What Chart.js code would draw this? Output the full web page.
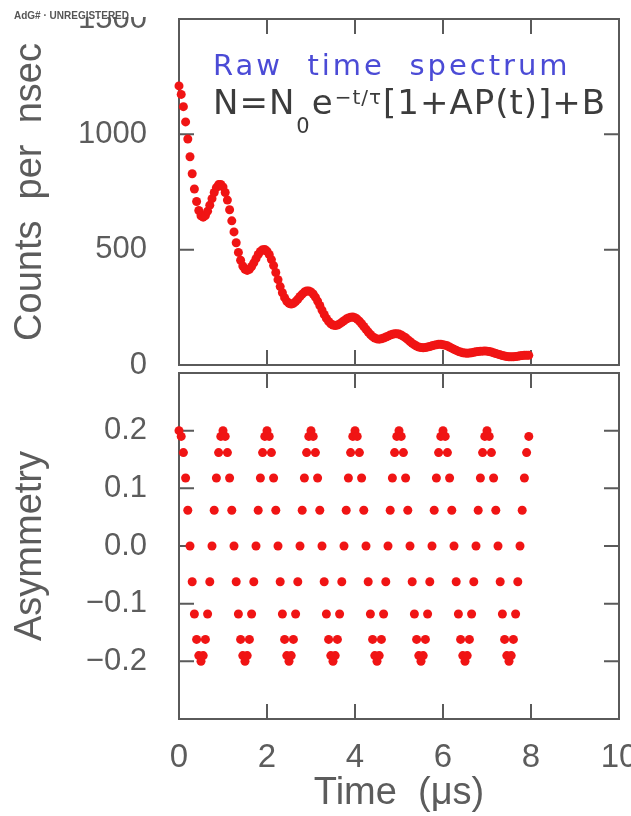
<!DOCTYPE html>
<html>
<head>
<meta charset="utf-8">
<script src="https://cdn.jsdelivr.net/npm/chart.js@4.4.0/dist/chart.umd.min.js"></script>
<style>
  html, body { margin: 0; padding: 0; background: #fff; }
  #wrap { position: relative; width: 631px; height: 816px; overflow: hidden; }
  canvas { position: absolute; left: 0; top: 0; }
</style>
</head>
<body>
<div id="wrap">
  <canvas id="countsChart" width="631" height="816"></canvas>
  <canvas id="asymChart" width="631" height="816"></canvas>
</div>
<script>
// ------------------------------------------------------------
//  DATA (one point every 0.05 us)
// ------------------------------------------------------------
const timeUs = [
  0, 0.05, 0.1, 0.15, 0.2, 0.25, 0.3, 0.35, 0.4, 0.45, 0.5, 0.55, 0.6, 0.65, 0.7, 0.75, 0.8, 0.85, 0.9, 0.95,
  1, 1.05, 1.1, 1.15, 1.2, 1.25, 1.3, 1.35, 1.4, 1.45, 1.5, 1.55, 1.6, 1.65, 1.7, 1.75, 1.8, 1.85, 1.9, 1.95,
  2, 2.05, 2.1, 2.15, 2.2, 2.25, 2.3, 2.35, 2.4, 2.45, 2.5, 2.55, 2.6, 2.65, 2.7, 2.75, 2.8, 2.85, 2.9, 2.95,
  3, 3.05, 3.1, 3.15, 3.2, 3.25, 3.3, 3.35, 3.4, 3.45, 3.5, 3.55, 3.6, 3.65, 3.7, 3.75, 3.8, 3.85, 3.9, 3.95,
  4, 4.05, 4.1, 4.15, 4.2, 4.25, 4.3, 4.35, 4.4, 4.45, 4.5, 4.55, 4.6, 4.65, 4.7, 4.75, 4.8, 4.85, 4.9, 4.95,
  5, 5.05, 5.1, 5.15, 5.2, 5.25, 5.3, 5.35, 5.4, 5.45, 5.5, 5.55, 5.6, 5.65, 5.7, 5.75, 5.8, 5.85, 5.9, 5.95,
  6, 6.05, 6.1, 6.15, 6.2, 6.25, 6.3, 6.35, 6.4, 6.45, 6.5, 6.55, 6.6, 6.65, 6.7, 6.75, 6.8, 6.85, 6.9, 6.95,
  7, 7.05, 7.1, 7.15, 7.2, 7.25, 7.3, 7.35, 7.4, 7.45, 7.5, 7.55, 7.6, 7.65, 7.7, 7.75, 7.8, 7.85, 7.9, 7.95
];

// top panel: counts per nsec
const countsPerNs = [
  1210, 1173, 1120, 1054, 980, 903, 829, 763, 709, 670, 647, 641, 648, 667, 693, 721, 748, 769, 782, 783,
  772, 748, 715, 673, 625, 577, 530, 488, 454, 429, 415, 410, 415, 427, 443, 461, 479, 492, 500, 501,
  493, 479, 457, 431, 401, 370, 340, 313, 292, 276, 267, 264, 267, 275, 285, 297, 307, 316, 321, 321,
  317, 308, 294, 277, 258, 238, 219, 202, 189, 179, 173, 171, 173, 178, 185, 192, 199, 204, 207, 208,
  205, 199, 190, 179, 167, 155, 143, 132, 123, 117, 113, 112, 114, 117, 121, 125, 130, 133, 135, 135,
  134, 130, 124, 118, 110, 102, 94, 88, 82, 78, 76, 75, 76, 78, 80, 83, 86, 88, 90, 90,
  88, 86, 83, 78, 73, 68, 64, 59, 56, 53, 52, 51, 52, 53, 55, 57, 58, 60, 60, 61,
  60, 58, 56, 53, 50, 47, 44, 41, 39, 37, 36, 36, 36, 37, 38, 40, 41, 42, 42, 42
];

// bottom panel: asymmetry
const asymmetry = [
  0.2, 0.19, 0.162, 0.118, 0.062, 0, -0.062, -0.118, -0.162, -0.19, -0.2, -0.19, -0.162, -0.118, -0.062, 0, 0.062, 0.118, 0.162, 0.19,
  0.2, 0.19, 0.162, 0.118, 0.062, 0, -0.062, -0.118, -0.162, -0.19, -0.2, -0.19, -0.162, -0.118, -0.062, 0, 0.062, 0.118, 0.162, 0.19,
  0.2, 0.19, 0.162, 0.118, 0.062, 0, -0.062, -0.118, -0.162, -0.19, -0.2, -0.19, -0.162, -0.118, -0.062, 0, 0.062, 0.118, 0.162, 0.19,
  0.2, 0.19, 0.162, 0.118, 0.062, 0, -0.062, -0.118, -0.162, -0.19, -0.2, -0.19, -0.162, -0.118, -0.062, 0, 0.062, 0.118, 0.162, 0.19,
  0.2, 0.19, 0.162, 0.118, 0.062, 0, -0.062, -0.118, -0.162, -0.19, -0.2, -0.19, -0.162, -0.118, -0.062, 0, 0.062, 0.118, 0.162, 0.19,
  0.2, 0.19, 0.162, 0.118, 0.062, 0, -0.062, -0.118, -0.162, -0.19, -0.2, -0.19, -0.162, -0.118, -0.062, 0, 0.062, 0.118, 0.162, 0.19,
  0.2, 0.19, 0.162, 0.118, 0.062, 0, -0.062, -0.118, -0.162, -0.19, -0.2, -0.19, -0.162, -0.118, -0.062, 0, 0.062, 0.118, 0.162, 0.19,
  0.2, 0.19, 0.162, 0.118, 0.062, 0, -0.062, -0.118, -0.162, -0.19, -0.2, -0.19, -0.162, -0.118, -0.062, 0, 0.062, 0.118, 0.162, 0.19
];

// axes / labels
const timeRange = [0, 10];
const timeStep = 2;
const countsRange = [0, 1500];
const countsStep = 500;
const asymRange = [-0.3, 0.3];
const asymStep = 0.1;

const SPECTRUM_LABEL = 'Raw  time  spectrum';
const WATERMARK = 'AdG# \u00b7 UNREGISTERED';

// ------------------------------------------------------------
//  STYLE
// ------------------------------------------------------------
const INK = '#5c5c5c';
const FRAME = '#5a5a5a';
const DOT = '#f01414';
const FONT = '"Liberation Sans", Arial, sans-serif';

Chart.defaults.font.family = FONT;
Chart.defaults.color = INK;

// frame + inward ticks on all four sides
const framePlugin = {
  id: 'frame',
  beforeDatasetsDraw(chart) {
    const { ctx, chartArea: a, scales } = chart;
    const len = 15;
    ctx.save();
    ctx.strokeStyle = FRAME;
    ctx.lineWidth = 2;
    ctx.strokeRect(a.left, a.top, a.right - a.left, a.bottom - a.top);
    ctx.beginPath();
    scales.x.ticks.forEach(t => {
      if (t.value <= scales.x.min + 1e-9 || t.value >= scales.x.max - 1e-9) return;
      const px = scales.x.getPixelForValue(t.value);
      ctx.moveTo(px, a.bottom); ctx.lineTo(px, a.bottom - len);
      ctx.moveTo(px, a.top); ctx.lineTo(px, a.top + len);
    });
    scales.y.ticks.forEach(t => {
      if (t.value <= scales.y.min + 1e-9 || t.value >= scales.y.max - 1e-9) return;
      const py = scales.y.getPixelForValue(t.value);
      ctx.moveTo(a.left, py); ctx.lineTo(a.left + len, py);
      ctx.moveTo(a.right, py); ctx.lineTo(a.right - len, py);
    });
    ctx.stroke();
    ctx.restore();
  }
};

// text inside the top panel + watermark
const annotationPlugin = {
  id: 'annotation',
  afterDraw(chart) {
    const { ctx, chartArea: a } = chart;
    ctx.save();
    ctx.textAlign = 'left';
    ctx.textBaseline = 'alphabetic';

    ctx.fillStyle = '#4b4bd6';
    ctx.font = '29px "DejaVu Sans"';
    ctx.letterSpacing = '3px';
    ctx.fillText(SPECTRUM_LABEL, a.left + 34, 75);

    // N=N0 e^{-t/tau}[1+AP(t)]+B
    const parts = [
      { text: 'N=N', size: 34, dy: 0 },
      { text: '0', size: 21, dy: 19 },
      { text: 'e', size: 34, dy: 0 },
      { text: '\u2212t/\u03c4', size: 20, dy: -10 },
      { text: '[1+AP(t)]+B', size: 34, dy: 0 }
    ];
    ctx.fillStyle = '#3c3c3c';
    ctx.letterSpacing = '1px';
    let x = a.left + 34;
    parts.forEach(p => {
      ctx.font = p.size + 'px "DejaVu Sans"';
      ctx.fillText(p.text, x, 114 + p.dy);
      x += ctx.measureText(p.text).width + 1;
    });

    // watermark
    ctx.letterSpacing = '0px';
    ctx.fillStyle = '#ffffff';
    ctx.fillRect(0, 0, 170, 17);
    ctx.fillStyle = '#555';
    ctx.font = 'bold 10px ' + FONT;
    ctx.fillText(WATERMARK, 14, 19);
    ctx.restore();
  }
};

function noPad(s) {
  s.paddingLeft = 0; s.paddingRight = 0; s.paddingTop = 0; s.paddingBottom = 0;
}

// ------------------------------------------------------------
//  TOP PANEL
// ------------------------------------------------------------
new Chart(document.getElementById('countsChart'), {
  type: 'scatter',
  data: {
    datasets: [{
      data: timeUs.map((t, i) => ({ x: t, y: countsPerNs[i] })),
      pointRadius: 4.5,
      pointBackgroundColor: DOT,
      pointBorderWidth: 0,
      clip: false
    }]
  },
  options: {
    responsive: false,
    animation: false,
    devicePixelRatio: 1,
    layout: { padding: { top: 19, right: 12, left: 0, bottom: 0 } },
    plugins: { legend: { display: false }, tooltip: { enabled: false } },
    scales: {
      x: {
        type: 'linear', min: timeRange[0], max: timeRange[1],
        ticks: { stepSize: timeStep, display: false },
        grid: { display: false, drawTicks: false },
        border: { display: false },
        afterFit(s) { s.height = 816 - 365; noPad(s); }
      },
      y: {
        min: countsRange[0], max: countsRange[1],
        ticks: {
          stepSize: countsStep, padding: 32, color: INK, font: { size: 31 },
          callback: v => String(v)
        },
        grid: { display: false, drawTicks: false },
        border: { display: false },
        title: {
          display: true, text: 'Counts  per  nsec', color: INK,
          font: { size: 38 }, padding: { top: 8, bottom: 0 }
        },
        afterFit(s) { s.width = 179; noPad(s); }
      }
    }
  },
  plugins: [framePlugin, annotationPlugin]
});

// ------------------------------------------------------------
//  BOTTOM PANEL
// ------------------------------------------------------------
new Chart(document.getElementById('asymChart'), {
  type: 'scatter',
  data: {
    datasets: [{
      data: timeUs.map((t, i) => ({ x: t, y: asymmetry[i] })),
      pointRadius: 4.5,
      pointBackgroundColor: DOT,
      pointBorderWidth: 0,
      clip: false
    }]
  },
  options: {
    responsive: false,
    animation: false,
    devicePixelRatio: 1,
    layout: { padding: { top: 373, right: 12, left: 0, bottom: 0 } },
    plugins: { legend: { display: false }, tooltip: { enabled: false } },
    scales: {
      x: {
        type: 'linear', min: timeRange[0], max: timeRange[1],
        ticks: {
          stepSize: timeStep, padding: 19, color: INK, font: { size: 33 },
          maxRotation: 0, autoSkip: false, callback: v => String(v)
        },
        grid: { display: false, drawTicks: false },
        border: { display: false },
        title: {
          display: true, text: 'Time  (\u03bcs)', color: INK,
          font: { size: 38 }, padding: { top: 0, bottom: 0 }
        },
        afterFit(s) { s.height = 816 - 719; noPad(s); }
      },
      y: {
        min: asymRange[0], max: asymRange[1],
        ticks: {
          stepSize: asymStep, padding: 32, color: INK, font: { size: 31 },
          callback: v => Math.abs(v) > 0.25 ? '' : v.toFixed(1).replace('-', '\u2212')
        },
        grid: { display: false, drawTicks: false },
        border: { display: false },
        title: {
          display: true, text: 'Asymmetry', color: INK,
          font: { size: 38 }, padding: { top: 8, bottom: 0 }
        },
        afterFit(s) { s.width = 179; noPad(s); }
      }
    }
  },
  plugins: [framePlugin]
});
</script>
</body>
</html>
